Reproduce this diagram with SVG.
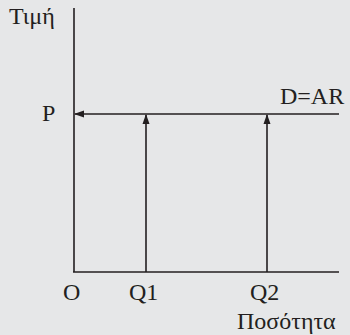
<svg xmlns="http://www.w3.org/2000/svg" width="350" height="335" viewBox="0 0 350 335">
<style>
.ax{stroke:#231f20;stroke-width:1.6;fill:none}
.t{font-family:"Liberation Serif","DejaVu Serif",serif;font-size:24px;fill:#231f20}
</style>
<defs>
<marker id="ah" viewBox="0 0 10 10" refX="9" refY="5" markerWidth="10" markerHeight="10" markerUnits="userSpaceOnUse" orient="auto"><path d="M0,1.5 L10,5 L0,8.5 z" fill="#231f20"/></marker>
</defs>
<rect width="350" height="335" fill="#e6e7e8"/>
<g id="axes">
<line class="ax" x1="74" y1="8" x2="74" y2="272"/>
<line class="ax" x1="73" y1="272" x2="339" y2="272"/>
</g>
<g id="connectors">
<line class="ax" x1="339" y1="114" x2="75" y2="114" marker-end="url(#ah)"/>
<line class="ax" x1="146" y1="272" x2="146" y2="115" marker-end="url(#ah)"/>
<line class="ax" x1="267" y1="272" x2="267" y2="115" marker-end="url(#ah)"/>
</g>
<g id="labels">
<text class="t" x="9" y="24">Τιμή</text>
<text class="t" x="42" y="121">P</text>
<text class="t" x="280" y="104">D=AR</text>
<text class="t" x="63" y="300">O</text>
<text class="t" x="129" y="300">Q1</text>
<text class="t" x="250" y="300">Q2</text>
<text class="t" x="237" y="329">Ποσότητα</text>
</g>
</svg>
